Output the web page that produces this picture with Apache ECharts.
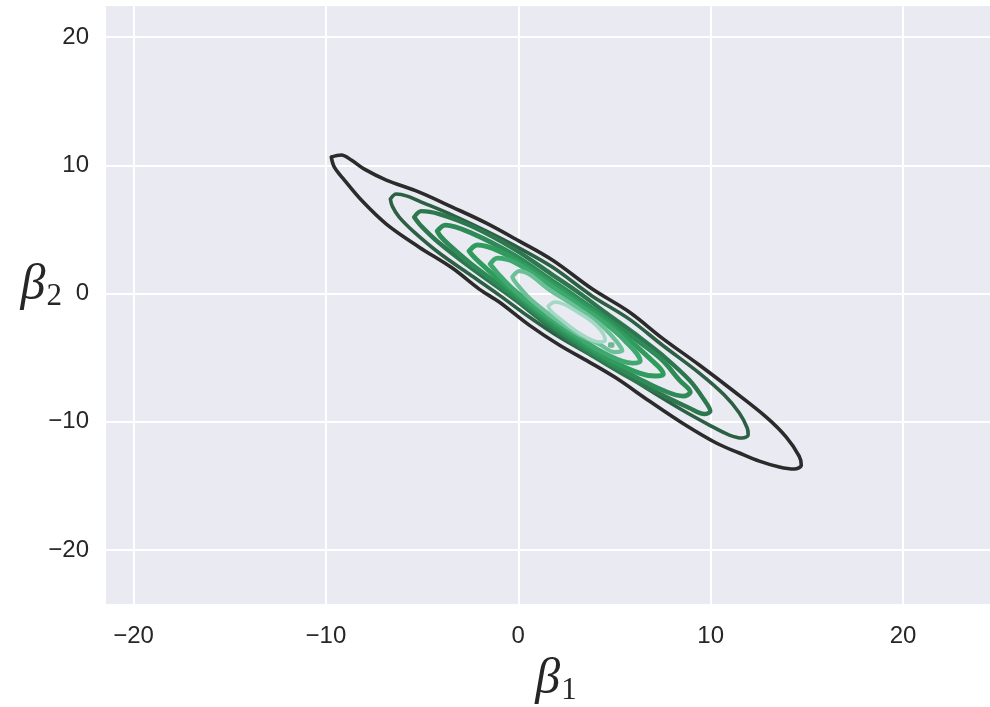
<!DOCTYPE html>
<html>
<head>
<meta charset="utf-8">
<script src="https://cdn.jsdelivr.net/npm/echarts@6/dist/echarts.min.js"></script>
<style>
  html, body { margin: 0; padding: 0; background: #ffffff; }
  #chart { width: 990px; height: 707px; }
</style>
</head>
<body>
<div id="chart"></div>
<script>
// Axis ranges and tick values
const xRange = [-21.43, 24.52];
const yRange = [-24.2, 22.42];
const xTicks = [-20, -10, 0, 10, 20];
const yTicks = [-20, -10, 0, 10, 20];

// KDE contour levels of the joint posterior of (beta1, beta2), lowest density first.
// Each contour is a closed path of [beta1, beta2] points.
const level1 = [
  [-9.72, 10.64], [-9.20, 10.80], [-8.68, 10.41], [-8.00, 9.70], [-6.86, 8.85],
  [-5.15, 7.91], [-3.43, 6.74], [-1.66, 5.49], [0.05, 4.09], [1.77, 2.61],
  [3.85, 0.35], [5.77, -1.44], [7.48, -3.47], [9.41, -5.57], [11.12, -7.52],
  [12.89, -9.63], [13.93, -11.19], [14.60, -12.67], [14.71, -13.37], [14.35, -13.68],
  [13.57, -13.52], [12.53, -13.06], [11.49, -12.43], [10.29, -11.65], [8.52, -10.09],
  [6.81, -8.38], [5.09, -6.59], [3.69, -5.34], [2.13, -4.01], [0.57, -2.46],
  [-0.99, -0.66], [-2.03, 0.35], [-3.43, 1.99], [-5.15, 3.62], [-6.86, 5.42],
  [-8.11, 7.21], [-9.04, 8.85], [-9.56, 9.86]
];
const level2 = [
  [-6.65, 7.37], [-6.34, 7.76], [-5.77, 7.60], [-5.15, 7.21], [-3.43, 6.12],
  [-1.66, 4.87], [0.05, 3.55], [1.77, 2.07], [3.85, -0.20], [5.77, -1.99],
  [7.48, -4.01], [9.41, -6.20], [10.71, -7.91], [11.49, -9.31], [11.90, -10.48],
  [11.95, -11.03], [11.64, -11.26], [10.97, -11.03], [9.93, -10.25], [8.52, -9.08],
  [6.81, -7.52], [5.09, -5.88], [3.69, -4.72], [2.13, -3.39], [0.57, -1.83],
  [-0.99, -0.12], [-2.55, 1.52], [-4.11, 3.16], [-5.41, 4.79], [-6.19, 5.96],
  [-6.55, 6.82]
];
const level3 = [
  [-5.41, 5.96], [-5.04, 6.43], [-4.11, 6.20], [-2.44, 5.26], [-0.21, 3.47],
  [1.72, 1.52], [3.17, 0.04], [4.57, -1.52], [6.29, -3.39], [7.48, -4.79],
  [8.89, -6.74], [9.67, -8.30], [9.98, -9.16], [9.67, -9.39], [8.89, -8.92],
  [7.48, -7.91], [6.29, -6.98], [4.57, -5.49], [3.17, -4.17], [1.72, -2.69],
  [-0.21, -0.43], [-2.44, 1.99], [-4.11, 3.94], [-5.04, 5.26]
];
const level4 = [
  [-4.21, 4.87], [-3.79, 5.34], [-2.44, 4.72], [-0.21, 3.00], [1.72, 1.05],
  [3.17, -0.43], [4.57, -1.91], [6.29, -3.78], [7.48, -5.18], [8.37, -6.74],
  [8.94, -7.68], [8.58, -7.99], [7.48, -7.52], [6.29, -6.66], [4.57, -5.26],
  [3.17, -3.94], [1.72, -2.46], [-0.21, -0.19], [-2.44, 2.30], [-3.59, 3.78],
  [-4.05, 4.48]
];
const level5 = [
  [-2.55, 3.31], [-2.13, 3.78], [-0.99, 3.31], [0.57, 1.99], [1.72, 0.82],
  [3.17, -0.66], [4.57, -2.14], [5.77, -3.62], [6.81, -5.03], [7.54, -6.27],
  [7.12, -6.43], [6.29, -6.20], [4.57, -5.03], [3.17, -3.70], [1.72, -2.22],
  [0.57, -0.90], [-0.99, 1.05], [-2.03, 2.46], [-2.39, 3.00]
];
const level6 = [
  [-1.46, 2.30], [-1.09, 2.77], [-0.21, 2.46], [1.72, 0.58], [3.17, -0.90],
  [4.57, -2.38], [5.51, -3.62], [6.34, -5.26], [5.93, -5.42], [4.57, -4.72],
  [3.17, -3.47], [1.72, -1.99], [-0.21, 0.27], [-0.99, 1.44], [-1.30, 1.99]
];
const level7 = [
  [-0.31, 1.29], [0.05, 1.75], [1.72, 0.19], [3.17, -1.21], [4.47, -2.69],
  [5.41, -4.48], [4.99, -4.56], [4.21, -3.94], [3.17, -3.23], [1.72, -1.75],
  [0.57, -0.35], [-0.16, 0.90]
];
const level8 = [
  [1.56, -0.97], [1.92, -0.66], [3.17, -1.52], [4.10, -2.54], [4.52, -3.62],
  [4.21, -3.78], [3.17, -3.08], [2.13, -1.91], [1.66, -1.29]
];
const level9 = [
  [4.75, -3.93], [4.91, -3.93], [4.91, -4.09], [4.75, -4.09]
];

const contours = [level1, level2, level3, level4, level5, level6, level7, level8, level9];
// dark grey -> green -> pale teal colour ramp, one colour per level
const levelColors = ['#2b2b2b', '#2c5f43', '#2d774e', '#2e8a57', '#2f9c5e', '#3fa86f', '#6cc096', '#a3d9c4', '#6db796'];
const levelWidths = [3.6, 3.6, 4.4, 4.8, 5, 4.8, 4.2, 3.6, 3.4];

const minus = v => String(v).replace('-', '\u2212');
const tickFont = { color: '#262626', fontSize: 24, fontFamily: 'Liberation Sans, Arial, sans-serif' };
const mathFont = 'Liberation Serif, DejaVu Serif, serif';
const mathRich = {
  b: { fontFamily: mathFont, fontStyle: 'italic', fontSize: 50, color: '#262626', lineHeight: 52 },
  s: { fontFamily: mathFont, fontSize: 31, color: '#262626', padding: [22, 0, 0, 1], lineHeight: 52 }
};

const chart = echarts.init(document.getElementById('chart'), null, { renderer: 'canvas' });

chart.setOption({
  animation: false,
  backgroundColor: '#ffffff',
  grid: {
    left: 106, right: 0, top: 6, bottom: 103,
    outerBoundsMode: 'none',
    show: true, backgroundColor: '#eaeaf2', borderWidth: 0
  },
  xAxis: {
    type: 'value',
    min: xRange[0], max: xRange[1],
    axisLine: { show: false },
    axisTick: { show: false, customValues: xTicks },
    axisLabel: Object.assign({ customValues: xTicks, formatter: minus, margin: 20 }, tickFont),
    splitLine: { show: true, lineStyle: { color: '#ffffff', width: 2 } },
    name: '{b|β}{s|1}',
    nameLocation: 'middle',
    nameMoveOverlap: false,
    nameGap: 50,
    nameTextStyle: { padding: [0, 0, 0, 16], rich: mathRich }
  },
  yAxis: {
    type: 'value',
    min: yRange[0], max: yRange[1],
    axisLine: { show: false },
    axisTick: { show: false, customValues: yTicks },
    axisLabel: Object.assign({ customValues: yTicks, formatter: minus, margin: 17 }, tickFont),
    splitLine: { show: true, lineStyle: { color: '#ffffff', width: 2 } },
    name: '{b|β}{s|2}',
    nameLocation: 'middle',
    nameMoveOverlap: false,
    nameRotate: 0,
    nameGap: 44,
    nameTextStyle: { padding: [0, 0, 38, 0], rich: mathRich }
  },
  series: contours.map((pts, i) => ({
    type: 'line',
    data: pts.concat([pts[0]]),
    symbol: 'none',
    smooth: 0.35,
    silent: true,
    z: 2 + i,
    lineStyle: { color: levelColors[i], width: levelWidths[i], cap: 'round', join: 'round' }
  }))
});
</script>
</body>
</html>
